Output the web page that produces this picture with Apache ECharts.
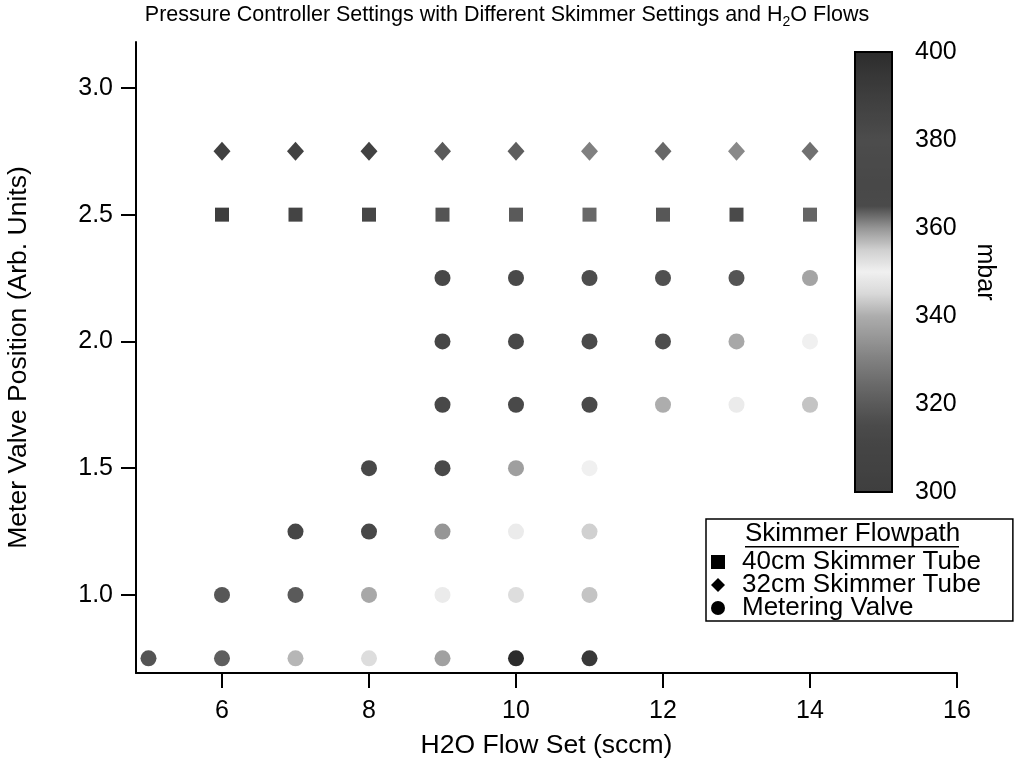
<!DOCTYPE html>
<html><head><meta charset="utf-8">
<script src="https://cdn.jsdelivr.net/npm/echarts@6.0.0/dist/echarts.min.js"></script>
<style>html,body{margin:0;padding:0;background:#fff}#chart{width:1014px;height:769px}</style>
</head><body><div id="chart"></div>
<script>
// ---- data ----
const seriesNames = ['40cm Skimmer Tube', '32cm Skimmer Tube', 'Metering Valve'];

const flow40 = [6, 7, 8, 9, 10, 11, 12, 13, 14];
const pos40  = [2.5, 2.5, 2.5, 2.5, 2.5, 2.5, 2.5, 2.5, 2.5];
const mbar40 = [300, 309, 312, 318, 320, 324, 319, 315, 323];

const flow32 = [6, 7, 8, 9, 10, 11, 12, 13, 14];
const pos32  = [2.75, 2.75, 2.75, 2.75, 2.75, 2.75, 2.75, 2.75, 2.75];
const mbar32 = [302, 305, 306, 320, 321, 330, 324, 332, 326];

const flowMV = [5, 6, 7, 8, 9, 10, 11,
                6, 7, 8, 9, 10, 11,
                7, 8, 9, 10, 11,
                8, 9, 10, 11,
                9, 10, 11, 12, 13, 14,
                9, 10, 11, 12, 13, 14,
                9, 10, 11, 12, 13, 14];
const posMV  = [0.75, 0.75, 0.75, 0.75, 0.75, 0.75, 0.75,
                1.0, 1.0, 1.0, 1.0, 1.0, 1.0,
                1.25, 1.25, 1.25, 1.25, 1.25,
                1.5, 1.5, 1.5, 1.5,
                1.75, 1.75, 1.75, 1.75, 1.75, 1.75,
                2.0, 2.0, 2.0, 2.0, 2.0, 2.0,
                2.25, 2.25, 2.25, 2.25, 2.25, 2.25];
const mbarMV = [318, 321, 341, 346, 359, 400, 394,
                319, 320, 339, 349, 353, 356,
                312, 313, 335, 349, 355,
                313, 314, 337, 350,
                313, 314, 315, 340, 349, 356,
                312, 313, 315, 316, 339, 350,
                313, 314, 316, 317, 318, 338];

const xTicks = [6, 8, 10, 12, 14, 16];
const yTicks = [1.0, 1.5, 2.0, 2.5, 3.0];
const cbarMin = 300, cbarMax = 400, cbarStep = 20;

function pts(xs, ys, vs) { return xs.map((x, i) => [x, ys[i], vs[i]]); }

const FONT = '"Liberation Sans", Arial, sans-serif';
const chart = echarts.init(document.getElementById('chart'));

chart.setOption({
  backgroundColor: '#fff',
  animation: false,
  textStyle: { fontFamily: FONT, color: '#000' },
  title: {
    left: 'center', top: 1, padding: 0,
    text: '{a|Pressure Controller Settings with Different Skimmer Settings and H}{s|2}{a|O Flows}',
    textStyle: {
      fontWeight: 'normal',
      rich: {
        a: { fontFamily: FONT, fontSize: 21.5, fontWeight: 'normal', color: '#000', lineHeight: 28, verticalAlign: 'middle' },
        s: { fontFamily: FONT, fontSize: 14, fontWeight: 'normal', color: '#000', lineHeight: 28, verticalAlign: 'bottom' }
      }
    }
  },
  grid: [
    { left: 136, top: 42, width: 821, height: 631, outerBoundsMode: 'none', containLabel: false },
    { left: 855, top: 52, width: 37, height: 440, show: true, borderColor: '#000', borderWidth: 2,
      backgroundColor: 'transparent', z: 10, outerBoundsMode: 'none', containLabel: false }
  ],
  xAxis: [
    {
      gridIndex: 0, type: 'value', min: 4.83, max: 16,
      name: 'H2O Flow Set (sccm)', nameLocation: 'middle', nameGap: 59,
      nameTextStyle: { fontSize: 26.5, color: '#000', fontFamily: FONT },
      axisLine: { show: true, onZero: false, lineStyle: { color: '#000', width: 2 } },
      axisTick: { show: true, inside: false, length: 15, lineStyle: { color: '#000', width: 2 }, customValues: xTicks },
      axisLabel: { fontSize: 25, color: '#000', margin: 26, customValues: xTicks, fontFamily: FONT },
      splitLine: { show: false }
    },
    { gridIndex: 1, type: 'value', min: 0, max: 1, show: false }
  ],
  yAxis: [
    {
      gridIndex: 0, type: 'value', min: 0.692, max: 3.181,
      name: 'Meter Valve Position (Arb. Units)', nameLocation: 'middle', nameGap: 104,
      nameTextStyle: { fontSize: 26.5, color: '#000', fontFamily: FONT },
      axisLine: { show: true, onZero: false, lineStyle: { color: '#000', width: 2 } },
      axisTick: { show: true, inside: false, length: 15, lineStyle: { color: '#000', width: 2 }, customValues: yTicks },
      axisLabel: { fontSize: 25, color: '#000', margin: 23, customValues: yTicks,
                   formatter: v => Number(v).toFixed(1), fontFamily: FONT },
      splitLine: { show: false }
    },
    {
      gridIndex: 1, type: 'value', min: cbarMin, max: cbarMax, interval: cbarStep, position: 'right',
      name: 'mbar', nameLocation: 'middle', nameGap: 80, nameRotate: -90,
      nameTextStyle: { fontSize: 25, color: '#000', fontFamily: FONT },
      axisLine: { show: false },
      axisTick: { show: true, inside: false, length: 18, lineStyle: { color: '#000', width: 2 } },
      axisLabel: { fontSize: 25, color: '#000', margin: 23, fontFamily: FONT },
      splitLine: { show: false }
    }
  ],
  visualMap: {
    type: 'continuous', min: cbarMin, max: cbarMax, dimension: 2, seriesIndex: [0, 1, 2],
    calculable: false, realtime: false,
    left: 855, top: 52, itemWidth: 37, itemHeight: 440, padding: 0,
    inRange: {
      color: ['#3e3e3e', '#424242', '#444444', '#4a4a4a', '#5a5a5a', '#6c6c6c', '#808080',
              '#969696', '#adadad', '#d8d8d8', '#f0f0f0', '#d0d0d0', '#959595', '#4a4a4a',
              '#484848', '#4a4a4a', '#4c4c4c', '#454545', '#3e3e3e', '#363636', '#2c2c2c']
    },
    outOfRange: { color: '#2c2c2c' }
  },
  legend: {
    orient: 'vertical', left: 706, top: 519, selectedMode: false,
    padding: [30, 32, 0, 5], itemGap: -3, itemWidth: 14, itemHeight: 14,
    borderColor: '#000', borderWidth: 1.5, backgroundColor: '#fff',
    textStyle: { fontSize: 26, lineHeight: 23, color: '#000', fontFamily: FONT, padding: [0, 0, 0, 12] },
    data: [
      { name: seriesNames[0], icon: 'rect', itemStyle: { color: '#000' } },
      { name: seriesNames[1], icon: 'diamond', itemStyle: { color: '#000' } },
      { name: seriesNames[2], icon: 'circle', itemStyle: { color: '#000' } }
    ]
  },
  graphic: [
    { type: 'text', left: 745, top: 521, z: 100,
      style: { text: 'Skimmer Flowpath', font: '26px ' + FONT, fill: '#000' } },
    { type: 'rect', left: 745, top: 546, z: 100, shape: { width: 214, height: 1.5 }, style: { fill: '#000' } }
  ],
  series: [
    { name: seriesNames[0], type: 'scatter', xAxisIndex: 0, yAxisIndex: 0, symbol: 'rect', symbolSize: 14,
      itemStyle: { color: '#000', opacity: 1 }, data: pts(flow40, pos40, mbar40) },
    { name: seriesNames[1], type: 'scatter', xAxisIndex: 0, yAxisIndex: 0, symbol: 'diamond', symbolSize: [17, 19],
      itemStyle: { color: '#000', opacity: 1 }, data: pts(flow32, pos32, mbar32) },
    { name: seriesNames[2], type: 'scatter', xAxisIndex: 0, yAxisIndex: 0, symbol: 'circle', symbolSize: 16,
      itemStyle: { color: '#000', opacity: 1 }, data: pts(flowMV, posMV, mbarMV) }
  ]
});
</script></body></html>
